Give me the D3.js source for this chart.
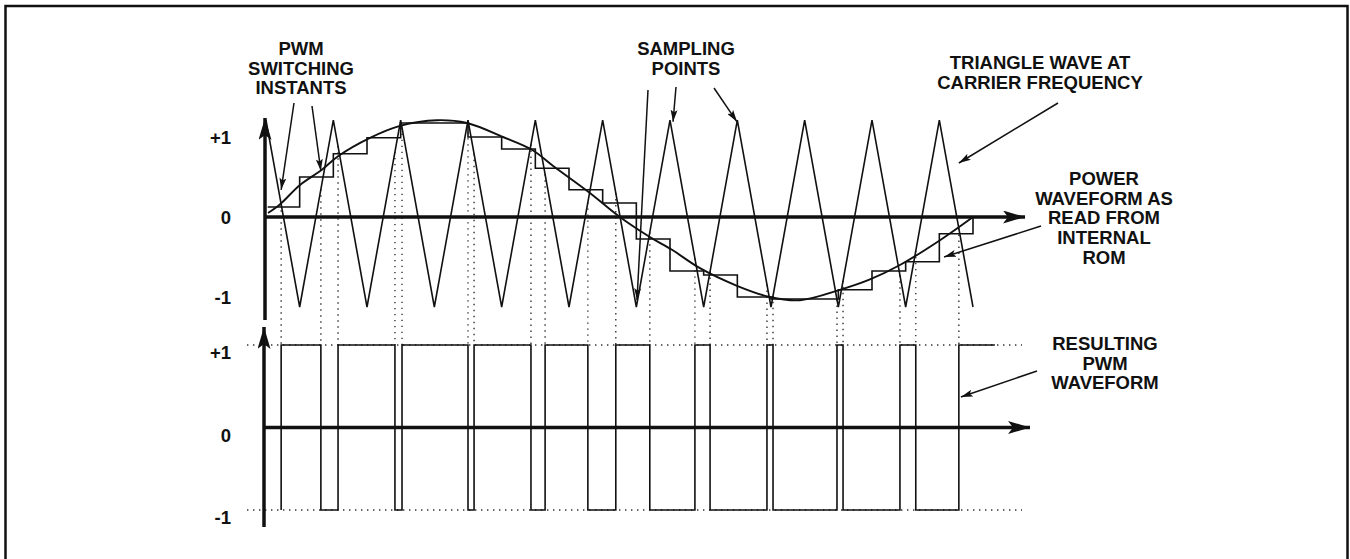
<!DOCTYPE html>
<html>
<head>
<meta charset="utf-8">
<script src="https://cdn.jsdelivr.net/npm/d3@7"></script>
<style>
  body { margin: 0; background: #fff; }
  svg text { font-family: "Liberation Sans", Arial, sans-serif; font-weight: bold; fill: #111; }
</style>
</head>
<body>
<svg id="chart" width="1350" height="559"></svg>
<script>
// time axis is measured in half carrier periods (one sample per triangle peak / trough)
const triangleVals = [1.21,-1.125,1.21,-1.125,1.21,-1.125,1.21,-1.125,1.21,-1.125,1.21,
                      -1.125,1.21,-1.125,1.21,-1.125,1.21,-1.125,1.21,-1.125,1.21,-1.125];

// staircase (sampled ROM waveform), one level per half period
const stairLevels = [0.125,0.5,0.79,0.99,1.175,1.175,1.0,0.85,0.61,0.34,0.175,
                     -0.275,-0.675,-0.725,-1.0,-1.025,-1.025,-0.91,-0.675,-0.56,-0.21];

// smooth reference waveform
const sineT = [0.06,0.42,1.01,1.66,2.14,3.09,3.98,5.08,5.97,7.04,7.9,8.52,9.62,10.51,
               11.4,12.06,12.89,13.99,14.97,15.86,17.05,17.94,18.83,20.02,21];
const sineV = [0.05,0.16,0.40,0.59,0.76,0.99,1.14,1.21,1.175,1.0,0.84,0.64,0.30,0,
               -0.25,-0.41,-0.64,-0.86,-1.0,-1.04,-0.91,-0.78,-0.6,-0.29,0];

// PWM switching instants and the level after each one
const pwmEdges = [0.45,1.63,2.14,3.83,4.04,6.0,6.18,7.87,8.29,9.56,10.39,11.4,12.74,
                  13.19,14.88,15.06,16.96,17.14,18.83,19.3,20.58];
const pwmLevels = [1,-1,1,-1,1,-1,1,-1,1,-1,1,-1,1,-1,1,-1,1,-1,1,-1,1];
const pwmEnd = 21.65;

const tickVals = [1, 0, -1];
const tickText = ["+1", "0", "-1"];

const svg = d3.select("#chart");

const x = d3.scaleLinear().domain([0, 21]).range([266, 973]);
const yTop = d3.scaleLinear().domain([-1, 1]).range([297, 137]);
const yBot = d3.scaleLinear().domain([-1, 1]).range([510, 345]);
const triAt = d3.scaleLinear().domain(d3.range(triangleVals.length)).range(triangleVals);

// frame
svg.append("rect")
  .attr("x", 5.5).attr("y", 6).attr("width", 1342).attr("height", 570)
  .attr("fill", "none").attr("stroke", "#111").attr("stroke-width", 2.5);

const defs = svg.append("defs");
defs.append("marker").attr("id", "ahBig")
  .attr("viewBox", "0 0 22 13").attr("refX", 22).attr("refY", 6.5)
  .attr("markerWidth", 22).attr("markerHeight", 13)
  .attr("markerUnits", "userSpaceOnUse").attr("orient", "auto")
  .append("path").attr("d", "M0,0 L22,6.5 L0,13 L5,6.5 Z").attr("fill", "#111");
defs.append("marker").attr("id", "ahSmall")
  .attr("viewBox", "0 0 12 7").attr("refX", 12).attr("refY", 3.5)
  .attr("markerWidth", 12).attr("markerHeight", 7)
  .attr("markerUnits", "userSpaceOnUse").attr("orient", "auto")
  .append("path").attr("d", "M0,0 L12,3.5 L0,7 L2.5,3.5 Z").attr("fill", "#111");

const dotted = sel => sel.attr("stroke", "#333").attr("stroke-width", 1.4)
  .attr("stroke-dasharray", "1.4,4.6").attr("fill", "none");

// bottom panel +1 / -1 guides
svg.selectAll("line.guide")
  .data([1, -1])
  .enter().append("line")
    .attr("class", "guide")
    .attr("x1", 247).attr("x2", 1022)
    .attr("y1", d => yBot(d)).attr("y2", d => yBot(d))
    .call(dotted);

// dotted projections from the crossings down to the PWM panel
svg.selectAll("line.proj")
  .data(pwmEdges)
  .enter().append("line")
    .attr("class", "proj")
    .attr("x1", d => x(d)).attr("x2", d => x(d))
    .attr("y1", d => yTop(triAt(d))).attr("y2", yBot(1))
    .call(dotted);

// axes
const axisLine = (x1, y1, x2, y2) => svg.append("line")
  .attr("x1", x1).attr("y1", y1).attr("x2", x2).attr("y2", y2)
  .attr("stroke", "#111").attr("stroke-width", 3.5)
  .attr("marker-end", "url(#ahBig)");

axisLine(x(0) - 1, 320, x(0) - 1, 118);
axisLine(x(0) - 1, yTop(0), 1025, yTop(0));
axisLine(x(0) - 2, 527, x(0) - 2, 327);
axisLine(x(0) - 2, yBot(0), 1030, yBot(0));

// tick labels
const topAxis = svg.append("g")
  .attr("transform", "translate(231,1)")
  .call(d3.axisLeft(yTop).tickValues(tickVals).tickSize(0).tickPadding(0)
    .tickFormat((d, i) => tickText[i]));
const botAxis = svg.append("g")
  .attr("transform", "translate(231,8)")
  .call(d3.axisLeft(yBot).tickValues(tickVals).tickSize(0).tickPadding(0)
    .tickFormat((d, i) => tickText[i]));
[topAxis, botAxis].forEach(g => {
  g.select(".domain").remove();
  g.selectAll("text").attr("font-size", "18.5px")
    .attr("font-family", "'Liberation Sans', Arial, sans-serif").attr("font-weight", "bold").attr("fill", "#111");
});

// triangle carrier
svg.append("path")
  .datum(triangleVals)
  .attr("d", d3.line().x((d, i) => x(i)).y(d => yTop(d)))
  .attr("fill", "none").attr("stroke", "#111").attr("stroke-width", 1.6);

// staircase
const stairPts = stairLevels.map((v, i) => [i === 0 ? 0.05 : i, v]).concat([[21, 0]]);
svg.append("path")
  .datum(stairPts)
  .attr("d", d3.line().x(d => x(d[0])).y(d => yTop(d[1])).curve(d3.curveStepAfter))
  .attr("fill", "none").attr("stroke", "#111").attr("stroke-width", 1.6);

// smooth waveform
svg.append("path")
  .datum(sineT.map((t, i) => [t, sineV[i]]))
  .attr("d", d3.line().x(d => x(d[0])).y(d => yTop(d[1])).curve(d3.curveCatmullRom.alpha(0.5)))
  .attr("fill", "none").attr("stroke", "#111").attr("stroke-width", 1.9);

// resulting PWM
const pwmPts = [[pwmEdges[0], -1]]
  .concat(pwmEdges.map((t, i) => [t, pwmLevels[i]]))
  .concat([[pwmEnd, pwmLevels[pwmLevels.length - 1]]]);
svg.append("path")
  .datum(pwmPts)
  .attr("d", d3.line().x(d => x(d[0])).y(d => yBot(d[1])).curve(d3.curveStepAfter))
  .attr("fill", "none").attr("stroke", "#111").attr("stroke-width", 1.6);

// annotations: tails in page px, tips in data units
const pointers = [
  { from: [294, 103], to: [0.45, 0.34], y: yTop },
  { from: [312, 106], to: [1.63, 0.575], y: yTop },
  { from: [648, 90], to: [11.02, -1.04], y: yTop },
  { from: [676, 87], to: [12.09, 1.19], y: yTop },
  { from: [714, 88], to: [13.99, 1.19], y: yTop },
  { from: [1058, 103], to: [20.58, 0.675], y: yTop },
  { from: [1041, 226], to: [20.14, -0.5], y: yTop },
  { from: [1037, 371], to: [20.64, 0.37], y: yBot }
];
svg.selectAll("line.pointer")
  .data(pointers)
  .enter().append("line")
    .attr("class", "pointer")
    .attr("x1", d => d.from[0]).attr("y1", d => d.from[1])
    .attr("x2", d => x(d.to[0])).attr("y2", d => d.y(d.to[1]))
    .attr("stroke", "#111").attr("stroke-width", 1.5)
    .attr("marker-end", "url(#ahSmall)");

const labels = [
  { x: 301, y: 55, lines: ["PWM", "SWITCHING", "INSTANTS"] },
  { x: 686, y: 55, lines: ["SAMPLING", "POINTS"] },
  { x: 1040, y: 69, lines: ["TRIANGLE WAVE AT", "CARRIER FREQUENCY"] },
  { x: 1104, y: 185, lines: ["POWER", "WAVEFORM AS", "READ FROM", "INTERNAL", "ROM"] },
  { x: 1105, y: 350, lines: ["RESULTING", "PWM", "WAVEFORM"] }
];
labels.forEach(l => {
  const t = svg.append("text")
    .attr("x", l.x).attr("y", l.y)
    .attr("text-anchor", "middle").attr("font-size", "18.5px");
  l.lines.forEach((s, i) => {
    t.append("tspan").attr("x", l.x).attr("dy", i === 0 ? 0 : 19.7).text(s);
  });
});
</script>
</body>
</html>
